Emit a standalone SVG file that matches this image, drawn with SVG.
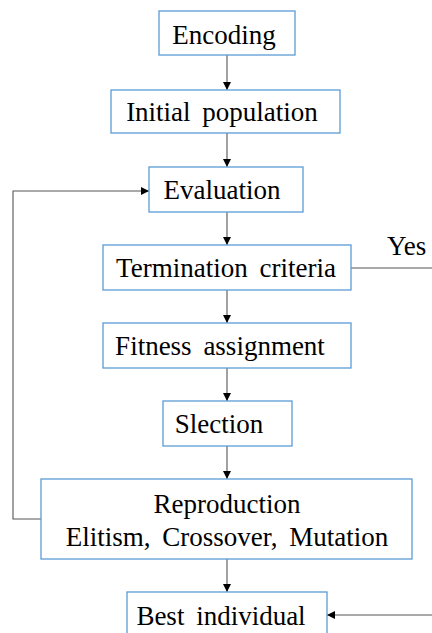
<svg xmlns="http://www.w3.org/2000/svg" width="432" height="633" viewBox="0 0 432 633">
  <style>
    .box { fill: #ffffff; stroke: #5b9bd5; stroke-width: 1.3; }
    .lbl { font-family: 'Liberation Serif', 'Times New Roman', Times, serif; font-size: 27px; fill: #000; text-anchor: middle; word-spacing: 5px; }
    .wire { fill: none; stroke: #555; stroke-width: 1.1; }
  </style>
  <defs>
    <marker id="arrow" viewBox="0 0 10 10" refX="10" refY="5" markerWidth="8" markerHeight="8" markerUnits="userSpaceOnUse" orient="auto">
      <path d="M0,0 L10,5 L0,10 Z" fill="#000"/>
    </marker>
  </defs>
  <rect width="432" height="633" fill="#ffffff"/>

  <g id="connectors">
    <line class="wire" x1="227" y1="55" x2="227" y2="90" marker-end="url(#arrow)"/>
    <line class="wire" x1="227" y1="133" x2="227" y2="167" marker-end="url(#arrow)"/>
    <line class="wire" x1="227" y1="212" x2="227" y2="245" marker-end="url(#arrow)"/>
    <line class="wire" x1="227" y1="290" x2="227" y2="323" marker-end="url(#arrow)"/>
    <line class="wire" x1="227" y1="368" x2="227" y2="401" marker-end="url(#arrow)"/>
    <line class="wire" x1="227" y1="446" x2="227" y2="479" marker-end="url(#arrow)"/>
    <line class="wire" x1="227" y1="559" x2="227" y2="592" marker-end="url(#arrow)"/>
    <!-- loop back from reproduction to evaluation -->
    <polyline class="wire" points="41,519 13,519 13,191 149,191" marker-end="url(#arrow)"/>
    <!-- exit branch -->
    <line class="wire" x1="351" y1="268" x2="432" y2="268"/>
    <text class="lbl" x="387" y="255" style="text-anchor:start">Yes</text>
    <line class="wire" x1="432" y1="615" x2="327" y2="615" marker-end="url(#arrow)"/>
  </g>

  <g id="encoding">
    <rect class="box" x="159" y="11" width="136" height="44"/>
    <text class="lbl" x="224" y="44">Encoding</text>
  </g>
  <g id="initial-population">
    <rect class="box" x="111" y="90" width="229" height="43"/>
    <text class="lbl" x="222" y="121">Initial population</text>
  </g>
  <g id="evaluation">
    <rect class="box" x="149" y="167" width="154" height="45"/>
    <text class="lbl" x="222" y="199">Evaluation</text>
  </g>
  <g id="termination-criteria">
    <rect class="box" x="103" y="245" width="248" height="45"/>
    <text class="lbl" x="226" y="277">Termination criteria</text>
  </g>
  <g id="fitness-assignment">
    <rect class="box" x="103" y="323" width="248" height="45"/>
    <text class="lbl" x="220" y="355">Fitness assignment</text>
  </g>
  <g id="slection">
    <rect class="box" x="163" y="401" width="129" height="45"/>
    <text class="lbl" x="219" y="433">Slection</text>
  </g>
  <g id="reproduction">
    <rect class="box" x="41" y="479" width="371" height="80"/>
    <text class="lbl" x="227" y="513">Reproduction</text>
    <text class="lbl" x="227" y="546">Elitism, Crossover, Mutation</text>
  </g>
  <g id="best-individual">
    <rect class="box" x="127" y="592" width="200" height="50"/>
    <text class="lbl" x="221" y="625">Best individual</text>
  </g>
</svg>
